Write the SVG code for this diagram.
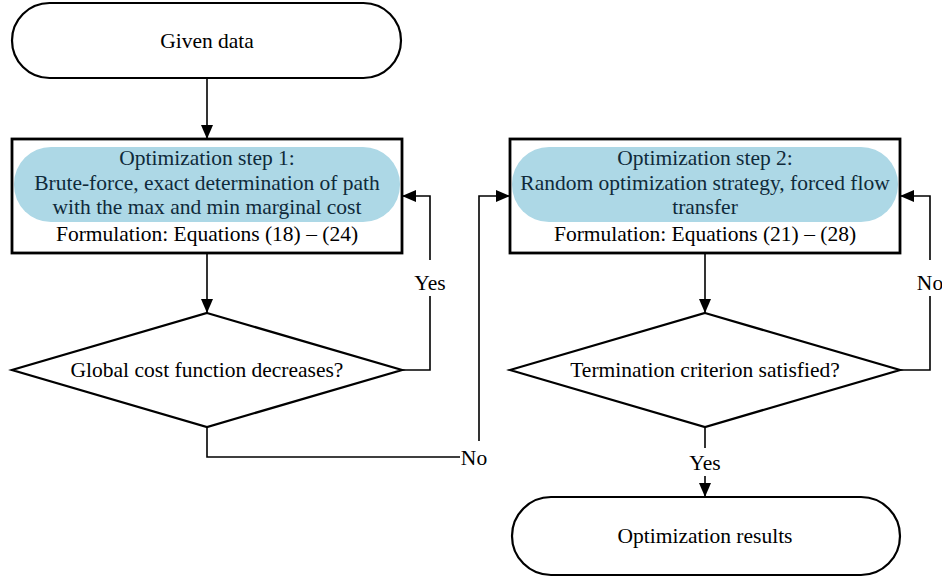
<svg xmlns="http://www.w3.org/2000/svg" width="942" height="577" viewBox="0 0 942 577">
<defs>
<marker id="arr" markerWidth="14" markerHeight="12" refX="14" refY="6" orient="auto" markerUnits="userSpaceOnUse">
<path d="M0,0 L14,6 L0,12 Z" fill="#000"/>
</marker>
<style>
.t{font-family:"Liberation Serif","Times New Roman",serif;font-size:21.5px;fill:#000;text-anchor:middle}
.tb{fill:#0f2a3a}
.shape{fill:#fff;stroke:#000;stroke-width:2.2}
.box{fill:#fff;stroke:#000;stroke-width:2.8}
.pill{fill:#add8e6;stroke:none}
.c{fill:none;stroke:#000;stroke-width:1.6}
</style>
</defs>
<rect width="942" height="577" fill="#fff"/>
<g id="given">
<rect class="shape" x="12" y="3" width="389" height="75" rx="37.5"/>
<text class="t" x="207" y="48">Given data</text>
</g>
<g id="step1">
<rect class="box" x="12" y="139" width="390" height="114"/>
<rect class="pill" x="14" y="147" width="386" height="75" rx="37"/>
<text class="t tb" x="207" y="165">Optimization step 1:</text>
<text class="t tb" x="207" y="190">Brute-force, exact determination of path</text>
<text class="t tb" x="207" y="214">with the max and min marginal cost</text>
<text class="t" x="207" y="241">Formulation: Equations (18) – (24)</text>
</g>
<g id="dec1">
<polygon class="shape" points="207,313 402,370 207,427 12,370"/>
<text class="t" x="207" y="377">Global cost function decreases?</text>
</g>
<g id="step2">
<rect class="box" x="510" y="139" width="390" height="114"/>
<rect class="pill" x="512" y="147" width="386" height="75" rx="37"/>
<text class="t tb" x="705" y="165">Optimization step 2:</text>
<text class="t tb" x="705" y="190">Random optimization strategy, forced flow</text>
<text class="t tb" x="705" y="214">transfer</text>
<text class="t" x="705" y="241">Formulation: Equations (21) – (28)</text>
</g>
<g id="dec2">
<polygon class="shape" points="705,313 900,370 705,427 510,370"/>
<text class="t" x="705" y="377">Termination criterion satisfied?</text>
</g>
<g id="results">
<rect class="shape" x="512" y="497" width="388" height="78" rx="39"/>
<text class="t" x="705" y="543">Optimization results</text>
</g>
<g id="connectors">
<line class="c" x1="207" y1="79" x2="207" y2="139" marker-end="url(#arr)"/>
<line class="c" x1="207" y1="253" x2="207" y2="313" marker-end="url(#arr)"/>
<polyline class="c" points="402,370 430,370 430,296"/>
<polyline class="c" points="430,260 430,196 402,196" marker-end="url(#arr)"/>
<text class="t" x="430" y="290">Yes</text>
<polyline class="c" points="207,427 207,457 460,457"/>
<text class="t" x="474" y="465">No</text>
<polyline class="c" points="479,441 479,196 510,196" marker-end="url(#arr)"/>
<line class="c" x1="705" y1="253" x2="705" y2="313" marker-end="url(#arr)"/>
<polyline class="c" points="900,370 930,370 930,296"/>
<polyline class="c" points="930,260 930,196 900,196" marker-end="url(#arr)"/>
<text class="t" x="930" y="290">No</text>
<line class="c" x1="705" y1="427" x2="705" y2="448"/>
<text class="t" x="705" y="470">Yes</text>
<line class="c" x1="705" y1="476" x2="705" y2="497" marker-end="url(#arr)"/>
</g>
</svg>
